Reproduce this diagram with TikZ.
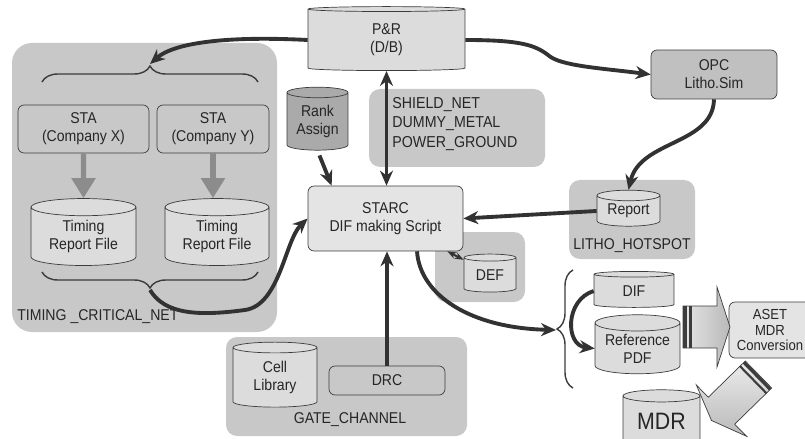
\documentclass[tikz,border=0pt]{standalone}
\usepackage{fontspec}
\setmainfont{Liberation Sans}[FakeStretch=0.9]
\usetikzlibrary{shapes.geometric, arrows.meta, positioning, calc, decorations.pathreplacing}
\definecolor{dfline}{RGB}{60,60,60}
\definecolor{dfgroup}{RGB}{200,200,200}
\definecolor{dfbox}{RGB}{228,228,228}
\definecolor{dfcyl}{RGB}{220,220,220}
\definecolor{dfdark}{RGB}{170,170,170}
\definecolor{dfopc}{RGB}{192,192,192}
\definecolor{dfarrow}{RGB}{50,50,50}
\definecolor{dfgray}{RGB}{140,140,140}

\begin{document}
\begin{tikzpicture}[x=0.02cm, y=-0.02cm,
  font=\fontsize{8.9}{10.2}\selectfont, text=black!85,
  group/.style={fill=dfgroup, rounded corners=0.22cm},
  proc/.style={rectangle, rounded corners=0.12cm, draw=dfline, fill=dfbox, align=center, inner sep=1pt},
  db/.style={cylinder, shape border rotate=90, aspect=0.25, draw=dfline, fill=dfcyl, align=center, inner sep=0pt},
  arrow/.style={-{Stealth[length=3mm, width=2.6mm]}, line width=2.2pt, draw=dfarrow},
  dblarrow/.style={{Stealth[length=3mm, width=2.6mm]}-{Stealth[length=3mm, width=2.6mm]}, line width=2.2pt, draw=dfarrow},
  grayarrow/.style={-{Triangle[length=4mm, width=4.6mm]}, line width=3pt, draw=dfgray},
  bracket/.style={decorate, decoration={brace, amplitude=0.32cm}, draw=dfline, line width=0.8pt},
  tag/.style={inner sep=0pt}
]
\useasboundingbox (0,0) rectangle (805,439);
\clip (0,0) rectangle (805,439);

% group backgrounds
\fill[group, rounded corners=0.4cm] (12,43) rectangle (277,332);
\fill[group] (369,89) rectangle (545,167);
\fill[group] (569,180) rectangle (695,259);
\fill[group] (435,232) rectangle (525,302);
\fill[group] (226,337) rectangle (467,436);

% timing part
\node[proc, fill=dfgroup, minimum width=2.62cm, minimum height=0.96cm] (stax) at (83.5,129) {STA\\(Company X)};
\node[proc, fill=dfgroup, minimum width=2.24cm, minimum height=0.96cm] (stay) at (213,129) {STA\\(Company Y)};
\node[db, minimum width=2.1cm, minimum height=1.34cm] (trx) at (83.5,236.5) {Timing\\Report File};
\node[db, minimum width=2.08cm, minimum height=1.34cm] (try) at (217,236.5) {Timing\\Report File};
\draw[bracket] (42,82) -- (258,82);
\draw[bracket] (258,272) -- (42,272);
\coordinate (tbtip) at (150,64);
\coordinate (bbtip) at (150,290);
\node[tag, anchor=west] (tcnlabel) at (17,317) {TIMING \_CRITICAL\_NET};

% center
\node[db, minimum width=3.14cm, minimum height=1.28cm, aspect=0.15] (pr) at (386.5,40) {P\&R\\(D/B)};
\node[db, fill=dfdark, minimum width=1.22cm, minimum height=1.26cm] (rank) at (317.5,121.5) {Rank\\Assign};
\node[tag, anchor=west, align=left, font=\fontsize{9}{11}\selectfont] (shield) at (392,124) {SHIELD\_NET\\DUMMY\_METAL\\POWER\_GROUND};
\node[proc, minimum width=3.1cm, minimum height=1.3cm] (starc) at (385.5,218.5) {STARC\\DIF making Script};
\node[db, minimum width=1.04cm, minimum height=0.76cm] (def) at (490,275) {DEF};

% litho
\node[proc, fill=dfopc, minimum width=2.52cm, minimum height=0.98cm] (opc) at (714,74.5) {OPC\\Litho.Sim};
\node[db, minimum width=1.26cm, minimum height=0.72cm] (report) at (628.5,211) {Report};
\node[tag] (litholabel) at (632,246) {LITHO\_HOTSPOT};

% gate
\node[db, minimum width=1.68cm, minimum height=1.3cm] (cell) at (275,377.5) {Cell\\Library};
\node[proc, fill=dfgroup, minimum width=2.32cm, minimum height=0.58cm] (drc) at (387,380.5) {DRC};
\node[tag] (gatelabel) at (350,420) {GATE\_CHANNEL};

% outputs
\draw[bracket] (573,388) -- (573,270);
\coordinate (rbtip) at (556,330);
\node[db, minimum width=1.6cm, minimum height=0.72cm] (dif) at (634,291) {DIF};
\node[db, minimum width=1.7cm, minimum height=1.18cm] (refpdf) at (637.5,348.5) {Reference\\PDF};
\node[proc, minimum width=1.64cm, minimum height=1.12cm, font=\fontsize{8.3}{8.9}\selectfont] (aset) at (770,330) {ASET\\MDR\\Conversion};
\node[db, minimum width=1.54cm, minimum height=1.14cm, font=\fontsize{13.5}{15}\selectfont] (mdr) at (661.5,421.5) {MDR};

% block arrows
\shade[draw=dfline, left color=gray!20, right color=gray!55] (683,306) -- (717,306) -- (717,287) -- (730,327) -- (717,367) -- (717,348) -- (683,348) -- cycle;
\fill[dfline] (683,306) rectangle (687,348);
\fill[dfline] (689,306) rectangle (692,348);
\shade[draw=dfline, top color=gray!15, bottom color=gray!55] (745.3,361) -- (708.3,397.2) -- (696.4,385.1) -- (711.5,420.5) -- (746.6,436.3) -- (734.7,424.2) -- (771.7,388) -- cycle;
\draw[dfline, line width=1.8pt] (743.9,362.4) -- (770.3,389.4);
\draw[dfline, line width=1.2pt] (740,366.2) -- (766.4,393.2);

% connectors
\draw[arrow] (pr.west) .. controls (230,36) and (175,42) .. (tbtip);
\draw[grayarrow] (stax.south) -- (trx.north);
\draw[grayarrow] (stay.south) -- (stay.south |- try.north);
\draw[arrow] (bbtip) .. controls (165,315) and (200,316) .. (245,310) .. controls (280,305) and (285,240) .. (starc.west);
\draw[dblarrow] (pr.south) -- (pr.south |- starc.north);
\draw[arrow, shorten <=3pt] (rank.south) -- ($(starc.north west)+(24,0)$);
\draw[arrow] (pr.east) .. controls (520,40) and (535,45) .. (548,55) .. controls (560,66) and (600,68) .. (opc.west);
\draw[arrow] (opc.south) .. controls (713,145) and (640,140) .. (report.north);
\draw[arrow] (report.west) -- (starc.east);
\draw[arrow] (drc.north) -- (drc.north |- starc.south);
\draw[{Stealth[length=1.8mm]}-{Stealth[length=1.8mm]}, line width=1.2pt, draw=dfarrow] ([xshift=-0.32cm]starc.south east) -- (def.150);
\draw[arrow] ([xshift=0.63cm]starc.south) .. controls (420,295) and (470,328) .. (rbtip);
\draw[arrow] (dif.west) .. controls (565,300) and (565,345) .. (refpdf.west);
\end{tikzpicture}
\end{document}
